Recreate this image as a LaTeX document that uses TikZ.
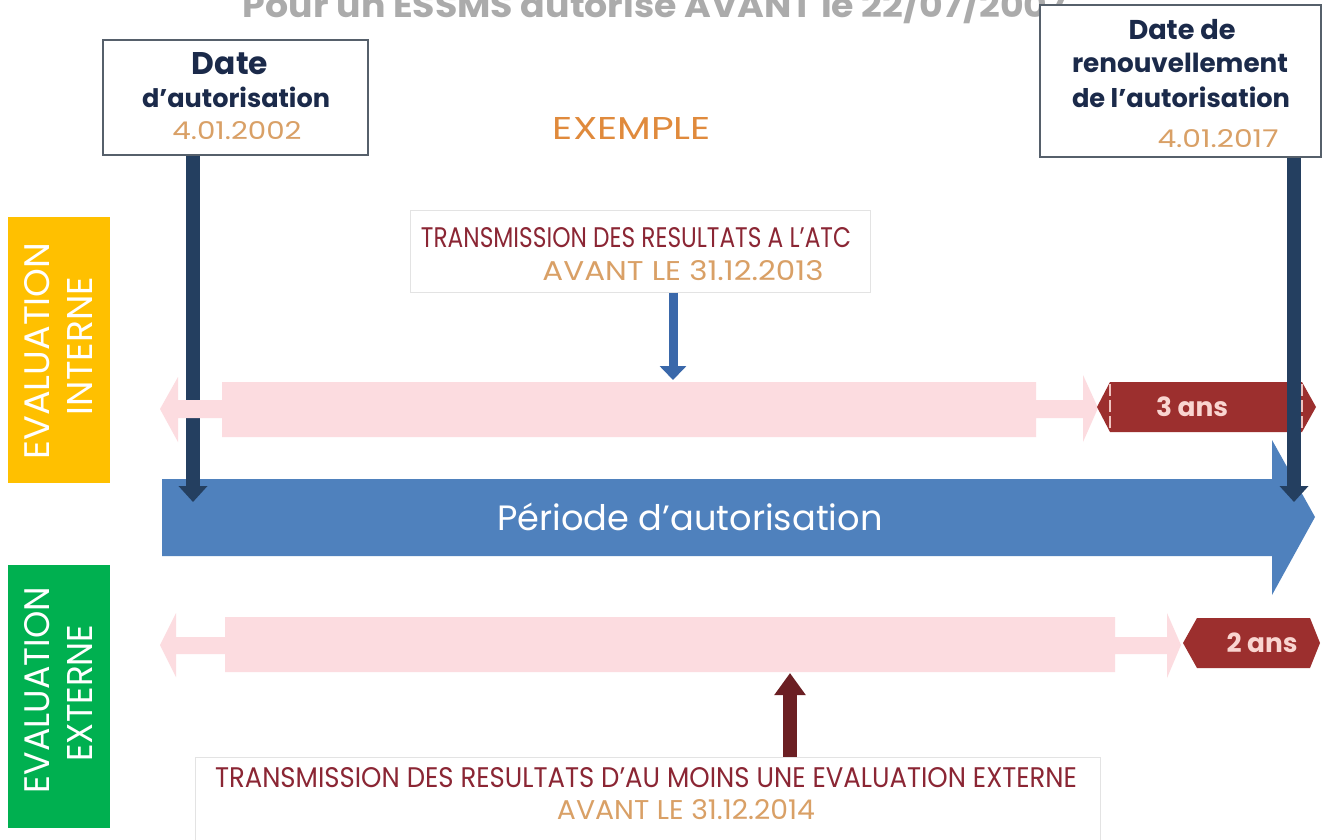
\documentclass[tikz,border=0pt]{standalone}
\usepackage{fontspec}
\setmainfont{Poppins}
\usetikzlibrary{arrows.meta}
\definecolor{titlegray}{HTML}{ABABAB}
\definecolor{navyc}{HTML}{243F60}
\definecolor{navyt}{HTML}{1B2A4A}
\definecolor{boxborder}{HTML}{56606B}
\definecolor{datecol}{HTML}{D9A066}
\definecolor{exemplecol}{HTML}{E08A3C}
\definecolor{periodblue}{HTML}{4F81BD}
\definecolor{smallblue}{HTML}{3A68AA}
\definecolor{pinkband}{HTML}{FCDCE0}
\definecolor{darkredbox}{HTML}{9C2F2E}
\definecolor{lightpinktxt}{HTML}{F9D5D0}
\definecolor{darkredarrow}{HTML}{6B1F23}
\definecolor{transred}{HTML}{8B2634}
\definecolor{yellowlab}{HTML}{FFC000}
\definecolor{greenlab}{HTML}{00B050}
\definecolor{lightborder}{HTML}{E3E3E3}
\newcommand{\fw}[2]{\resizebox{#1pt}{!}{#2}}
\newcommand{\fwh}[3]{\resizebox{#1pt}{#2pt}{#3}}
\begin{document}
\begin{tikzpicture}[x=1pt,y=-1pt,
  txt/.style={inner sep=0pt, outer sep=0pt, anchor=center},
  datebox/.style={draw=boxborder, line width=1.5pt, fill=white, inner sep=0pt},
  transbox/.style={draw=lightborder, line width=1pt, fill=white, inner sep=0pt},
  labbox/.style={inner sep=0pt},
  navyarrow/.style={draw=navyc, line width=14pt, -{Triangle[width=28pt,length=16pt]}},
  bluearrow/.style={draw=smallblue, line width=9pt, -{Triangle[width=26pt,length=14pt]}},
  redarrow/.style={draw=darkredarrow, line width=14pt, -{Triangle[width=30pt,length=22pt]}},
  durbox/.style={fill=darkredbox},
  durline/.style={draw=lightpinktxt!90!darkredbox, line width=1.5pt, dash pattern=on 12pt off 4pt},
  durtxt/.style={txt, text=lightpinktxt, font=\bfseries}]
\useasboundingbox (0,0) rectangle (1322,839);
\clip (0,0) rectangle (1322,839);
\fill[white] (0,0) rectangle (1322,839);

% title (cut by the top edge, as in the original)
\node[txt, anchor=base, text=titlegray, font=\bfseries] (title) at (655,17)
  {\fwh{824}{32}{Pour un ESSMS autorisé AVANT le 22/07/2007}};

% date boxes
\node[datebox, minimum width=265pt, minimum height=115pt] (ld) at (235.5,97.5) {};
\node[txt, text=navyt, font=\bfseries] (ld1) at (230,64) {\fw{76}{Date}};
\node[txt, text=navyt, font=\bfseries] (ld2) at (236,97) {\fw{188}{d’autorisation}};
\node[txt, text=datecol] (ld3) at (237,131) {\fwh{129}{18}{4.01.2002}};

\node[datebox, minimum width=281pt, minimum height=152pt] (rd) at (1180.5,81) {};
\node[txt, text=navyt, font=\bfseries] (rd1) at (1182,30) {\fw{107}{Date de}};
\node[txt, text=navyt, font=\bfseries] (rd2) at (1180,63) {\fw{216}{renouvellement}};
\node[txt, text=navyt, font=\bfseries] (rd3) at (1181,97) {\fw{218}{de l’autorisation}};
\node[txt, text=datecol] (rd4) at (1218,139) {\fwh{121}{18}{4.01.2017}};

% EXEMPLE
\node[txt, text=exemplecol] (ex) at (632,128) {\fwh{158}{22}{EXEMPLE}};

% side labels
\node[labbox, fill=yellowlab, minimum width=102pt, minimum height=266pt] (li) at (59,350) {};
\node[txt, text=white, rotate=90] (li1) at (37,351) {\fwh{217}{25}{EVALUATION}};
\node[txt, text=white, rotate=90] (li2) at (80,346) {\fwh{138}{25}{INTERNE}};
\node[labbox, fill=greenlab, minimum width=102pt, minimum height=263pt] (le) at (59,696.5) {};
\node[txt, text=white, rotate=90] (le1) at (37,690) {\fwh{206}{25}{EVALUATION}};
\node[txt, text=white, rotate=90] (le2) at (80,693) {\fwh{137}{25}{EXTERNE}};

% period arrow
\fill[periodblue] (162,479) -- (1272,479) -- (1272,440) -- (1315,517)
  -- (1272,595) -- (1272,556) -- (162,556) -- cycle;
\node[txt, text=white] (per) at (690,517) {\fw{385}{Période d’autorisation}};

% left navy arrow
\coordinate (tipL) at (193,502);
\draw[navyarrow] (ld.south -| tipL) -- (tipL);

% pink bands
\fill[pinkband] (160,409) -- (178,377) -- (178,400) -- (222,400) -- (222,382)
  -- (1036,382) -- (1036,400) -- (1083,400) -- (1083,375) -- (1098,408)
  -- (1083,442) -- (1083,418) -- (1036,418) -- (1036,437) -- (222,437)
  -- (222,418) -- (178,418) -- (178,442) -- cycle;
\fill[pinkband] (160,645) -- (176,613) -- (176,637) -- (225,637) -- (225,617)
  -- (1115,617) -- (1115,637) -- (1167,637) -- (1167,613) -- (1181,645)
  -- (1167,678) -- (1167,654) -- (1115,654) -- (1115,672) -- (225,672)
  -- (225,654) -- (176,654) -- (176,677) -- cycle;

% duration boxes
\fill[durbox] (1097,407) -- (1110,382) -- (1302,382) -- (1316,407) -- (1302,432) -- (1110,432) -- cycle;
\draw[durline] (1110,384) -- (1110,431);
\draw[durline] (1302,384) -- (1302,431);
\node[durtxt] (d3) at (1192,407) {\fw{72}{3 ans}};
\fill[durbox] (1183,643) -- (1197,618) -- (1310,618) -- (1320,643) -- (1310,668) -- (1197,668) -- cycle;
\node[durtxt] (d2) at (1262,643) {\fw{71}{2 ans}};

% right navy arrow
\coordinate (tipR) at (1294,502);
\draw[navyarrow] (rd.south -| tipR) -- (tipR);

% transmission boxes
\node[transbox, minimum width=460pt, minimum height=82pt] (tt) at (640,251) {};
\node[txt, text=transred] (tt1) at (636,238) {\fwh{430}{20}{TRANSMISSION DES RESULTATS A L’ATC}};
\node[txt, text=datecol] (tt2) at (683,271) {\fwh{281}{20}{AVANT LE 31.12.2013}};
\coordinate (bTip) at (673,380);
\draw[bluearrow] (tt.south -| bTip) -- (bTip);

\node[transbox, minimum width=905pt, minimum height=90pt] (tb) at (647.5,802) {};
\node[txt, text=transred] (tb1) at (646,778) {\fwh{862}{20}{TRANSMISSION DES RESULTATS D’AU MOINS UNE EVALUATION EXTERNE}};
\node[txt, text=datecol] (tb2) at (686,810) {\fwh{258}{20}{AVANT LE 31.12.2014}};
\coordinate (rTip) at (790,673);
\draw[redarrow] (tb.north -| rTip) -- (rTip);
\end{tikzpicture}
\end{document}
